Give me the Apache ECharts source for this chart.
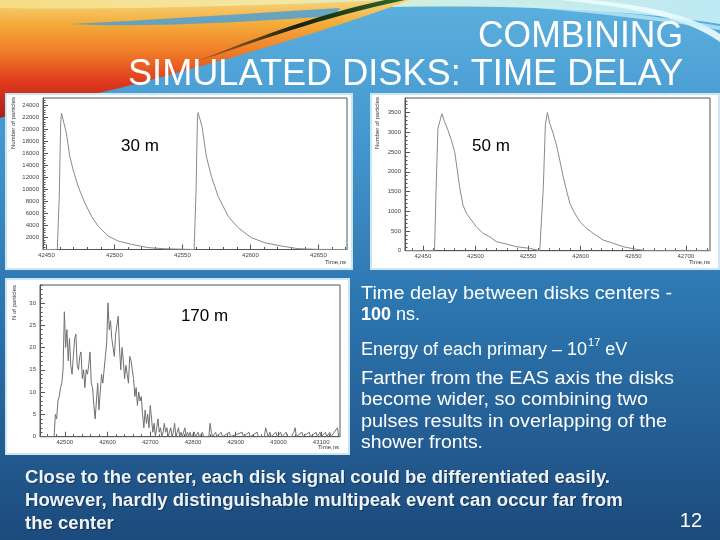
<!DOCTYPE html>
<html><head><meta charset="utf-8">
<script src="https://cdn.jsdelivr.net/npm/echarts@6/dist/echarts.min.js"></script>
<style>html,body{margin:0;padding:0;background:#2b6fa6;}#c{width:720px;height:540px;}</style>
</head><body><div id="c"></div>
<script>
// ---------------- DATA ----------------
// 30 m : time (ns) and number of particles
const t30 = [42447.5, 42458, 42459.5, 42460.5, 42461.1, 42464.7, 42467.2, 42469.6, 42473.3, 42478.2, 42483.1, 42488, 42495.4, 42502.7, 42512.5, 42524.8, 42537, 42548,
             42558.6, 42560, 42561, 42561.5, 42564.4, 42567.6, 42571.3, 42576.2, 42583.6, 42590.9, 42600.7, 42610.5, 42622.8, 42635, 42650, 42671];
const n30 = [0, 0, 9000, 21000, 22620, 19320, 15460, 13260, 10500, 7750, 5540, 3890, 2240, 1410, 860, 310, 120, 60,
             0, 9500, 21500, 22730, 20420, 15460, 12150, 8850, 5540, 3610, 1960, 1130, 580, 140, 20, 0];
// 50 m
const t50 = [42433, 42461.1, 42462.5, 42464.3, 42468.1, 42470.6, 42473.8, 42477, 42480.2, 42482.7, 42484.9, 42488.1, 42491.3, 42496, 42500.8, 42507.1, 42513.5, 42519.8, 42529.3, 42538.9, 42551.6, 42561.1,
             42562.7, 42564.5, 42566.5, 42568.4, 42570.6, 42573.8, 42577, 42580.1, 42583.3, 42586.5, 42589.7, 42594.4, 42599.2, 42605.5, 42611.9, 42621.4, 42630.9, 42640.4, 42653.1, 42662.6, 42723];
const n50 = [0, 0, 1500, 3100, 3470, 3270, 3060, 2810, 2510, 2050, 1620, 1160, 950, 780, 610, 440, 355, 230, 170, 100, 60, 0,
             0, 1600, 3200, 3500, 3230, 2980, 2680, 2300, 1880, 1540, 1200, 950, 740, 570, 440, 270, 190, 100, 35, 0, 0];
// 170 m
const t170 = [42442,
  42475,42478,42481,42484,42487,42490,42493,42496,42499,42502,42505,42508,42511,42514,42517,42520,42523,42526,42529,42532,
  42535,42538,42541,42544,42547,42550,42553,42556,42559,42562,42565,42568,42571,42574,42577,42580,42583,42586,42589,42592,
  42595,42598,42601,42604,42607,42610,42613,42616,42619,42622,42625,42628,42631,42634,42637,42640,42643,42646,42649,42652,
  42655,42658,42661,42664,42667,42670,42673,42676,42679,42682,42685,42688,42691,42694,42697,42700,42703,42706,42709,42712,
  42715,42718,42721,42724,42727,42730,42733,42736,42739,42742,42745,42748,42751,42754,42757,42760,42763,42766,42769,42772,
  42775,42778,42781,42784,42787,42790,42793,42796,
  42800,42803,42806,42812,42815,42822,42825,42837,42840,42843,42846,42853,42856,42866,42869,42885,42888,42915,42918,42931,
  42934,42950,42953,42967,42970,42973,42976,42980,42983,42994,42997,43005,43008,43018,43021,43030,43036,43039,43042,43055,
  43058,43072,43075,43088,43091,43097,43100,43110,43113,43120,43123,43138,43141,43144];
const n170 = [0,
  0,5,4,8,9,11,12,15,28,20,24,17,22,16,14,18,22,23,16,15,
  18,19,13,15,11,15,14,16,19,12,11,7,4,8,12,6,10,14,12,15,
  18,21,30,24,26,22,20,18,23,25,27,20,15,20,17,13,16,14,12,18,
  17,15,13,9,11,7,10,8,9,5,2,6,3,5,2,7,4,1,3,0,
  2,4,1,2,0,1,3,1,2,0,1,2,0,1,3,0,1,2,0,1,
  0,1,2,0,1,0,1,0,
  0,1,0,1,0,1,0,0,3,1,0,1,0,1,0,1,0,1,0,1,
  0,1,0,0,2,1,0,1,0,1,0,1,0,1,0,0,1,2,0,1,
  0,1,0,1,0,1,0,1,0,1,0,2,0,0];

// tick labels
const xTicks30 = [42450, 42500, 42550, 42600, 42650];
const yTicks30 = [2000, 4000, 6000, 8000, 10000, 12000, 14000, 16000, 18000, 20000, 22000, 24000];
const xTicks50 = [42450, 42500, 42550, 42600, 42650, 42700];
const yTicks50 = [0, 500, 1000, 1500, 2000, 2500, 3000, 3500];
const xTicks170 = [42500, 42600, 42700, 42800, 42900, 43000, 43100];
const yTicks170 = [0, 5, 10, 15, 20, 25, 30];

// texts
const titleLines = ['COMBINING', 'SIMULATED DISKS: TIME DELAY'];
const plotLabels = ['30 m', '50 m', '170 m'];
const yNames = ['Number of particles', 'Number of particles', 'N of particles'];
const xName = 'Time,ns';
const noteLine1 = 'Time delay between disks centers -';
const noteBold = '100';
const noteRest = ' ns.';
const energyText = 'Energy of each primary \u2013 10';
const energySup = '17';
const energyUnit = ' eV';
const farLines = ['Farther from the EAS axis the disks', 'become wider, so combining two', 'pulses results in overlapping of the', 'shower fronts.'];
const bottomLines = ['Close to the center, each disk signal could be differentiated easily.',
                     'However, hardly distinguishable multipeak event can occur far from',
                     'the center'];
const pageNum = '12';

// ---------------- BUILD ----------------
const FF = '"Liberation Sans", Arial, sans-serif';
const mctx = document.createElement('canvas').getContext('2d');
function textW(text, font) { mctx.font = font; return mctx.measureText(text).width; }

const grids = [], xAxes = [], yAxes = [], series = [];
function minorList(min, max, step, majors) {
  const out = [];
  for (let v = Math.ceil(min / step) * step; v <= max + 1e-9; v += step) {
    if (!majors.some(m => Math.abs(m - v) < 1e-6)) out.push(v);
  }
  return out;
}
function makePlot(gi, o, t, n) {
  grids.push({left: o.left, top: o.top, width: o.width, height: o.height, show: true,
    borderColor: '#555', borderWidth: 1, backgroundColor: '#fff'});
  const lbl = {fontSize: 6, fontFamily: FF, color: '#444', formatter: v => String(v)};
  xAxes.push({type: 'value', gridIndex: gi, position: 'bottom', min: o.xmin, max: o.xmax,
    axisLine: {show: true, onZero: false, lineStyle: {color: '#555', width: 1}},
    axisTick: {show: true, inside: true, length: 5, customValues: o.xt, lineStyle: {color: '#555', width: 1}},
    axisLabel: Object.assign({show: true, customValues: o.xt, margin: 3}, lbl),
    splitLine: {show: false}});
  xAxes.push({type: 'value', gridIndex: gi, position: 'bottom', min: o.xmin, max: o.xmax,
    axisLine: {show: false},
    axisTick: {show: true, inside: true, length: 2.5, customValues: minorList(o.xmin, o.xmax, o.xm, o.xt), lineStyle: {color: '#555', width: 1}},
    axisLabel: {show: false}, splitLine: {show: false}});
  yAxes.push({type: 'value', gridIndex: gi, position: 'left', min: 0, max: o.ymax,
    axisLine: {show: true, onZero: false, lineStyle: {color: '#555', width: 1}},
    axisTick: {show: true, inside: true, length: 5, customValues: o.yt, lineStyle: {color: '#555', width: 1}},
    axisLabel: Object.assign({show: true, customValues: o.yt, margin: 4}, lbl),
    splitLine: {show: false}});
  yAxes.push({type: 'value', gridIndex: gi, position: 'left', min: 0, max: o.ymax,
    axisLine: {show: false},
    axisTick: {show: true, inside: true, length: 2.5, customValues: minorList(0, o.ymax, o.ym, o.yt), lineStyle: {color: '#555', width: 1}},
    axisLabel: {show: false}, splitLine: {show: false}});
  series.push({type: 'line', xAxisIndex: gi * 2, yAxisIndex: gi * 2,
    data: t.map((x, i) => [x, n[i]]), symbol: 'none', clip: true, silent: true,
    lineStyle: {color: o.color, width: 1}});
}
makePlot(0, {left: 43, top: 98, width: 304, height: 151.5, xmin: 42447.5, xmax: 42671, ymax: 25160,
  xt: xTicks30, yt: yTicks30, xm: 10, ym: 400, color: '#8a8a8a'}, t30, n30);
makePlot(1, {left: 405, top: 98, width: 305, height: 152.7, xmin: 42433, xmax: 42723, ymax: 3870,
  xt: xTicks50, yt: yTicks50, xm: 10, ym: 100, color: '#8a8a8a'}, t50, n50);
makePlot(2, {left: 40, top: 285, width: 300, height: 151.7, xmin: 42442, xmax: 43144, ymax: 34,
  xt: xTicks170, yt: yTicks170, xm: 20, ym: 1, color: '#707070'}, t170, n170);

// ---------------- GRAPHICS ----------------
// decorative swoosh shapes (registered from svg path strings)
const swooshPaths = {
  sTop: 'M0,0 L720,0 L720,24 C620,8 480,4 360,8 C250,12 120,16 0,20 Z',
  sWarm: 'M0,8 C120,10 250,6 390,0 L410,0 C330,30 220,62 120,88 C70,100 30,108 0,118 Z',
  sBlue: 'M70,24 C150,20 240,14 340,8 L335,16 C240,22 150,28 70,24 Z',
  sDark: 'M190,64 C255,42 320,18 405,0 L385,0 C320,14 265,34 190,64 Z',
  sArc1: 'M560,0 C640,8 690,20 720,42 L720,34 C690,14 640,4 590,0 Z',
  sArc2: 'M430,0 C520,6 620,14 720,30 L720,26 C620,10 520,3 460,0 Z'
};
let shapesOk = true;
try {
  Object.keys(swooshPaths).forEach(k => {
    echarts.graphic.registerShape(k, echarts.graphic.extendPath(swooshPaths[k], {}));
  });
} catch (e) { shapesOk = false; }

const G = [];
G.push({type: 'rect', z: -100, silent: true, shape: {x: 0, y: 0, width: 720, height: 540},
  style: {fill: {type: 'linear', x: 0, y: 0, x2: 0, y2: 1, colorStops: [
    {offset: 0, color: '#5cb0de'}, {offset: 0.25, color: '#4597cf'}, {offset: 0.55, color: '#2d77b1'}, {offset: 1, color: '#1c4a7c'}]}}});
if (shapesOk) {
  G.push({type: 'sTop', z: -99, silent: true,
    style: {fill: {type: 'linear', x: 0, y: 0, x2: 1, y2: 0, colorStops: [
      {offset: 0, color: '#f6dc84'}, {offset: 0.4, color: '#f2e8a6'}, {offset: 0.58, color: '#cfeede'}, {offset: 1, color: '#bde9f5'}]}}});
  G.push({type: 'sWarm', z: -98, silent: true,
    style: {fill: {type: 'linear', x: 0, y: 0, x2: 0, y2: 1, colorStops: [
      {offset: 0, color: '#f6d47c'}, {offset: 0.2, color: '#f4ac3a'}, {offset: 0.45, color: '#ef7a28'}, {offset: 0.7, color: '#df391d'}, {offset: 1, color: '#a71f1a'}]}}});
  G.push({type: 'sBlue', z: -97, silent: true, style: {fill: 'rgba(78,160,212,0.85)'}});
  G.push({type: 'sDark', z: -96, silent: true,
    style: {fill: {type: 'linear', x: 0, y: 1, x2: 1, y2: 0, colorStops: [
      {offset: 0, color: 'rgba(20,30,20,0.2)'}, {offset: 0.5, color: '#15200f'}, {offset: 1, color: '#2f6a2a'}]}}});
  G.push({type: 'sArc1', z: -95, silent: true, style: {fill: 'rgba(235,252,255,0.9)'}});
  G.push({type: 'sArc2', z: -95, silent: true, style: {fill: 'rgba(200,240,250,0.7)'}});
}
// plot panels
[[6, 94, 346, 175], [371, 94, 348, 175], [6, 279, 343, 175]].forEach(r => {
  G.push({type: 'rect', z: -50, silent: true, shape: {x: r[0], y: r[1], width: r[2], height: r[3]},
    style: {fill: '#ffffff', stroke: '#cde6f3', lineWidth: 2}});
});
// title
const tFont = 'normal 36px ' + FF;
G.push({type: 'text', z: 100, x: 683, y: 37, scaleX: 205 / textW(titleLines[0], tFont),
  style: {text: titleLines[0], font: tFont, fill: '#ffffff', align: 'right', verticalAlign: 'middle'}});
G.push({type: 'text', z: 100, x: 683, y: 75, scaleX: 555 / textW(titleLines[1], tFont),
  style: {text: titleLines[1], font: tFont, fill: '#ffffff', align: 'right', verticalAlign: 'middle'}});
// plot labels
const pFont = 'normal 17px ' + FF;
[[140, 146], [491, 146], [204.5, 316]].forEach((p, i) => {
  G.push({type: 'text', z: 100, x: p[0], y: p[1], style: {text: plotLabels[i], font: pFont, fill: '#000', align: 'center', verticalAlign: 'middle'}});
});
// axis names
const aFont = 'normal 6px ' + FF;
[[13, 97], [377, 97], [14, 285]].forEach((p, i) => {
  G.push({type: 'text', z: 100, x: p[0], y: p[1], rotation: Math.PI / 2,
    style: {text: yNames[i], font: aFont, fill: '#333', align: 'right', verticalAlign: 'middle'}});
});
[[346, 262], [710, 262], [339, 447]].forEach(p => {
  G.push({type: 'text', z: 100, x: p[0], y: p[1], style: {text: xName, font: aFont, fill: '#333', align: 'right', verticalAlign: 'middle'}});
});
// right notes
const nFont = 'normal 18px ' + FF;
const nBold = 'bold 18px ' + FF;
G.push({type: 'text', z: 100, x: 361, y: 294, scaleX: 311 / textW(noteLine1, nFont),
  style: {text: noteLine1, font: nFont, fill: '#fff', align: 'left', verticalAlign: 'middle'}});
G.push({type: 'text', z: 100, x: 361, y: 315, style: {text: noteBold, font: nBold, fill: '#fff', align: 'left', verticalAlign: 'middle'}});
G.push({type: 'text', z: 100, x: 361 + textW(noteBold, nBold), y: 315, style: {text: noteRest, font: nFont, fill: '#fff', align: 'left', verticalAlign: 'middle'}});
const ew = textW(energyText, nFont);
G.push({type: 'text', z: 100, x: 361, y: 350, style: {text: energyText, font: nFont, fill: '#fff', align: 'left', verticalAlign: 'middle'}});
const sFont = 'normal 11px ' + FF;
G.push({type: 'text', z: 100, x: 361 + ew + 1, y: 343, style: {text: energySup, font: sFont, fill: '#fff', align: 'left', verticalAlign: 'middle'}});
G.push({type: 'text', z: 100, x: 361 + ew + 1 + textW(energySup, sFont), y: 350, style: {text: energyUnit, font: nFont, fill: '#fff', align: 'left', verticalAlign: 'middle'}});
const farTargets = [313, 287, 306, 122];
farLines.forEach((s, i) => {
  G.push({type: 'text', z: 100, x: 361, y: 379 + i * 21.5, scaleX: farTargets[i] / textW(s, nFont),
    style: {text: s, font: nFont, fill: '#fff', align: 'left', verticalAlign: 'middle'}});
});
// bottom text
const bFont = 'bold 18px ' + FF;
const bScale = 585 / textW(bottomLines[0], bFont);
bottomLines.forEach((s, i) => {
  G.push({type: 'text', z: 100, x: 25, y: 478 + i * 23, scaleX: bScale,
    style: {text: s, font: bFont, fill: '#eef3f7', align: 'left', verticalAlign: 'middle',
      textShadowColor: 'rgba(0,0,0,0.35)', textShadowBlur: 1, textShadowOffsetX: 1, textShadowOffsetY: 1}});
});
G.push({type: 'text', z: 100, x: 702, y: 521, style: {text: pageNum, font: 'normal 20px ' + FF, fill: '#fff', align: 'right', verticalAlign: 'middle'}});

const chart = echarts.init(document.getElementById('c'), null, {renderer: 'canvas'});
chart.setOption({
  animation: false,
  backgroundColor: '#2b6fa6',
  grid: grids, xAxis: xAxes, yAxis: yAxes, series: series,
  graphic: {elements: G}
});
</script></body></html>
